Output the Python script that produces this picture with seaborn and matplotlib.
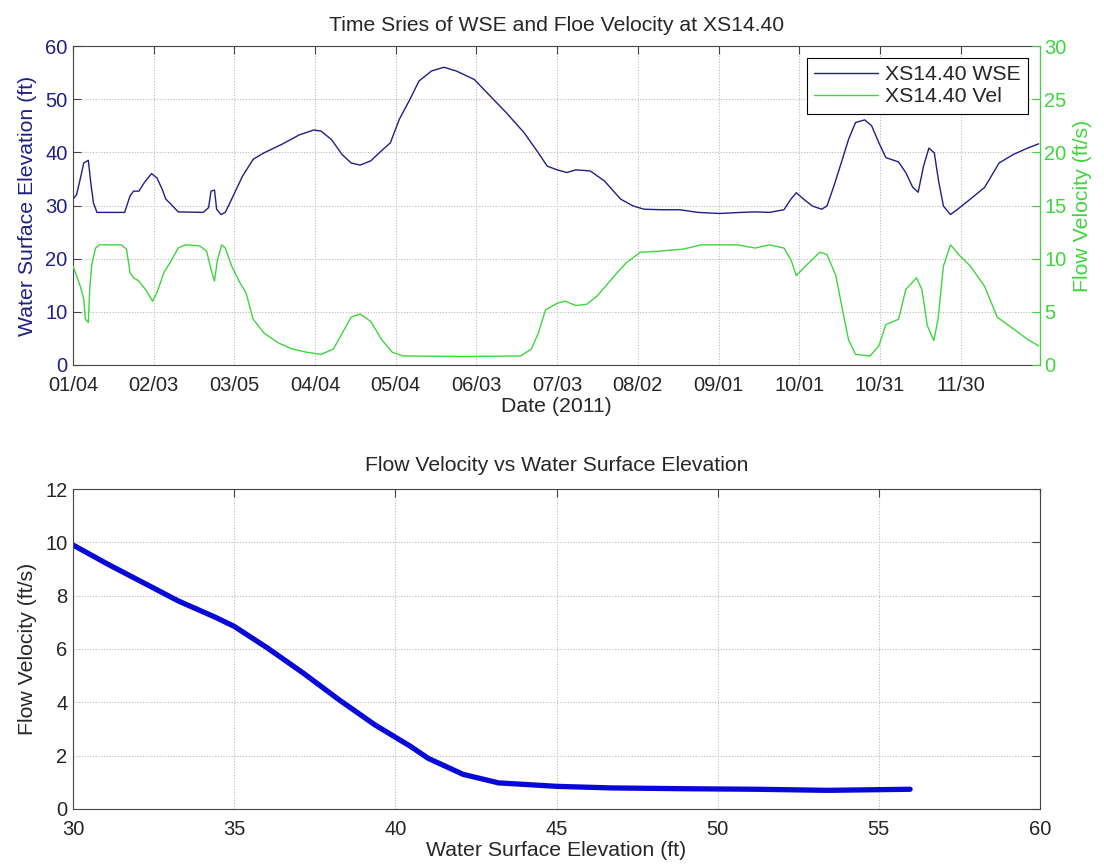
import numpy as np
import pandas as pd
import seaborn as sns
import matplotlib.pyplot as plt
import matplotlib.dates as mdates

# --- data ---
START = pd.Timestamp("2011-01-04")

# water surface elevation, days after 01/04 vs ft
wse_day = [0, 1.3, 2.7, 4, 5.7, 6.6, 7.6, 8.9, 19.2, 21.2, 22.5, 24.5, 26.5, 29.2,
           31.2, 33.2, 34.5, 36.5, 39.1, 48.4, 50.4, 51.3, 52.6, 53.4, 55, 56.6,
           59, 63, 67, 71, 77.6, 84.2, 89.5, 92.2, 96.1, 100, 103.4, 106.7, 110.7,
           114.7, 118, 121.3, 125.3, 128.6, 133.3, 137.9, 142.5, 149.2, 154.5, 161,
           167.7, 173, 176.3, 180, 183.6, 186.9, 192.3, 197.6, 203.6, 208.3, 212.3,
           218.9, 225.6, 232.3, 240.3, 248.3, 253.6, 258.9, 264.3, 266.9, 268.9,
           271.6, 274.9, 278.3, 280.3, 282.9, 285.6, 288.3, 290.9, 294.3, 296.9,
           299.6, 302.2, 306.9, 309.6, 312.2, 314.2, 316.2, 318.2, 320.2, 321.8,
           323.6, 326.2, 328.9, 333.6, 338.9, 344.3, 349.6, 354.9, 359]
wse_ft = [31.2, 32, 35, 38, 38.5, 34.3, 30.5, 28.7, 28.7, 31.8, 32.7, 32.7, 34.3, 36,
          35.2, 33, 31.2, 30.2, 28.8, 28.7, 29.6, 32.7, 32.9, 29.3, 28.3, 28.7,
          31.2, 35.5, 38.7, 39.9, 41.5, 43.3, 44.2, 44, 42.4, 39.6, 38, 37.6, 38.4,
          40.3, 41.8, 46.2, 50, 53.4, 55.3, 56, 55.3, 53.7, 50.9, 47.5,
          43.7, 39.9, 37.4, 36.7, 36.2, 36.7, 36.5, 34.6, 31.2, 29.9, 29.3,
          29.2, 29.2, 28.7, 28.5, 28.7, 28.8, 28.7, 29.2, 31.2, 32.4,
          31.2, 29.9, 29.3, 29.9, 33.7, 38, 42.4, 45.6, 46.1, 45,
          41.8, 39, 38.2, 36.2, 33.4, 32.5, 37.4, 40.8, 39.9, 34.6,
          29.9, 28.3, 29.3, 31.2, 33.4, 38, 39.6, 40.8, 41.6]

# flow velocity, days after 01/04 vs ft/s
vel_day = [0, 1.3, 2.7, 4, 4.6, 5.7, 6.2, 7, 8.4, 9.9, 17.9, 19.9, 21.2, 22.5, 24.5,
           27.2, 29.6, 31.2, 33.8, 36.5, 39.1, 41.8, 47.1, 49.7, 51.3, 52.6, 53.7,
           55.3, 56.6, 59, 61.7, 64.3, 67, 71, 76.2, 81.5, 86.9, 92.2, 96.8, 100.1,
           103.4, 106.7, 110.7, 114.7, 118.7, 122.7, 145.2, 166.4, 170.4, 173, 175.7,
           180, 182.9, 186.9, 190.9, 194.9, 200.3, 205.6, 210.9, 217.6, 226.9, 233.6,
           246.9, 253.6, 258.9, 264.3, 266.9, 268.9, 272.3, 277.6, 280.3, 283.6,
           286.3, 288.3, 290.9, 296.3, 299.6, 302.2, 306.9, 309.6, 313.6, 315.6,
           317.6, 320, 321.6, 323.6, 326.2, 329.6, 333.6, 338.9, 343.6, 349.6,
           354.9, 359]
vel_fps = [9.3, 8.4, 7.4, 6.2, 4.3, 4.0, 7.1, 9.5, 11, 11.3, 11.3, 10.9, 8.7, 8.2, 7.9,
           7, 6, 6.8, 8.7, 9.8, 11, 11.3, 11.2, 10.7, 9, 7.9, 9.9,
           11.3, 11, 9.3, 7.9, 6.8, 4.3, 3, 2.1, 1.5, 1.2, 1.0, 1.5, 3,
           4.5, 4.8, 4.1, 2.4, 1.2, 0.85, 0.8, 0.85, 1.5, 3, 5.2,
           5.8, 6.0, 5.6, 5.7, 6.5, 8.1, 9.6, 10.6, 10.7, 10.9, 11.3,
           11.3, 11, 11.3, 11, 9.9, 8.4, 9.3, 10.6, 10.4, 8.4,
           4.9, 2.4, 1, 0.85, 1.8, 3.8, 4.3, 7.1, 8.2, 7.1,
           3.7, 2.3, 4.3, 9.3, 11.3, 10.3, 9.3, 7.4, 4.5, 3.4,
           2.4, 1.8]

# velocity vs water surface elevation
sc_wse = [30, 31.05, 32.16, 33.27, 34.4, 35, 36.03, 37.14, 38.25, 39.36, 40.47,
          41.02, 42.1, 43.2, 45, 46.7, 49, 51.2, 53.4, 55.97]
sc_vel = [9.9, 9.2, 8.5, 7.8, 7.2, 6.85, 6.04, 5.1, 4.1, 3.16, 2.35,
          1.9, 1.3, 0.98, 0.85, 0.79, 0.76, 0.74, 0.70, 0.74]

NAVY = "#1f1f85"
GREEN = "#3dd63d"
BLUE = "#0808d8"
SPINE = "#444444"
TICK_FS = 14.5
LABEL_FS = 15.3

sns.set_style("white")
plt.rcParams['font.family'] = ['Liberation Sans', 'DejaVu Sans']

df_wse = pd.DataFrame({"date": START + pd.to_timedelta(wse_day, unit="D"), "wse": wse_ft})
df_vel = pd.DataFrame({"date": START + pd.to_timedelta(vel_day, unit="D"), "vel": vel_fps})
df_sc = pd.DataFrame({"wse": sc_wse, "vel": sc_vel})

fig = plt.figure(figsize=(11.04, 8.67), dpi=100)
ax1 = fig.add_axes([73 / 1104, 1 - 365 / 867, 967 / 1104, 319 / 867])
ax3 = fig.add_axes([73 / 1104, 1 - 809 / 867, 967 / 1104, 320 / 867])


def grid_dotted(ax):
    ax.grid(True, linestyle=(0, (1, 1.5)), color="#bbbbbb", linewidth=0.8)
    ax.set_axisbelow(True)


# --- top: time series ---
ax2 = ax1.twinx()
sns.lineplot(data=df_wse, x="date", y="wse", ax=ax1, color=NAVY, linewidth=1.0,
             label="XS14.40 WSE", legend=False)
sns.lineplot(data=df_vel, x="date", y="vel", ax=ax2, color=GREEN, linewidth=1.0,
             label="XS14.40 Vel", legend=False)

ax1.set_xlim(START, START + pd.Timedelta(days=359.5))
ax1.set_ylim(0, 60)
ax2.set_ylim(0, 30)
ax1.set_yticks(range(0, 61, 10))
ax2.set_yticks(range(0, 31, 5))
ax1.set_xticks([START + pd.Timedelta(days=30 * k) for k in range(12)])
ax1.xaxis.set_major_formatter(mdates.DateFormatter("%m/%d"))
grid_dotted(ax1)

ax1.tick_params(axis="x", direction="in", top=True, length=6, labelsize=TICK_FS,
                pad=8, color=SPINE)
ax1.tick_params(axis="y", direction="in", length=6, labelsize=TICK_FS, labelcolor=NAVY,
                color=SPINE, pad=4)
ax2.tick_params(axis="y", direction="in", length=6, labelsize=TICK_FS, labelcolor=GREEN,
                color=GREEN, pad=3)
for s in ax1.spines.values():
    s.set_color(SPINE)
    s.set_linewidth(0.8)
for s in ax2.spines.values():
    s.set_visible(False)
ax2.spines["right"].set_visible(True)
ax2.spines["right"].set_color(GREEN)

ax1.set_xlabel("Date (2011)", fontsize=LABEL_FS, labelpad=1)
ax1.set_ylabel("Water Surface Elevation (ft)", fontsize=LABEL_FS, color=NAVY, labelpad=6)
ax2.set_ylabel("Flow Velocity (ft/s)", fontsize=LABEL_FS, color=GREEN, labelpad=5)
ax1.set_title("Time Sries of WSE and Floe Velocity at XS14.40", fontsize=15.2, pad=10.5)

h1, l1 = ax1.get_legend_handles_labels()
h2, l2 = ax2.get_legend_handles_labels()
leg = ax2.legend(h1 + h2, l1 + l2, loc="upper right", fontsize=LABEL_FS, fancybox=False,
                 edgecolor="black", framealpha=1, handlelength=3.0, handletextpad=0.35,
                 borderaxespad=0.55, borderpad=0.35, labelspacing=0.15)
leg.get_frame().set_linewidth(0.8)

# --- bottom: velocity vs WSE ---
sns.lineplot(data=df_sc, x="wse", y="vel", ax=ax3, color=BLUE, linewidth=3.8,
             solid_capstyle="round")
ax3.set_xlim(30, 60)
ax3.set_ylim(0, 12)
ax3.set_xticks(range(30, 61, 5))
ax3.set_yticks(range(0, 13, 2))
grid_dotted(ax3)
ax3.tick_params(direction="in", top=True, right=True, length=6, labelsize=TICK_FS,
                color=SPINE, pad=4)
ax3.tick_params(axis="x", pad=8)
for s in ax3.spines.values():
    s.set_color(SPINE)
    s.set_linewidth(0.8)
ax3.set_xlabel("Water Surface Elevation (ft)", fontsize=LABEL_FS, labelpad=1)
ax3.set_ylabel("Flow Velocity (ft/s)", fontsize=LABEL_FS, labelpad=6)
ax3.set_title("Flow Velocity vs Water Surface Elevation", fontsize=15.2, pad=13)

fig.savefig("out.png", dpi=100)
